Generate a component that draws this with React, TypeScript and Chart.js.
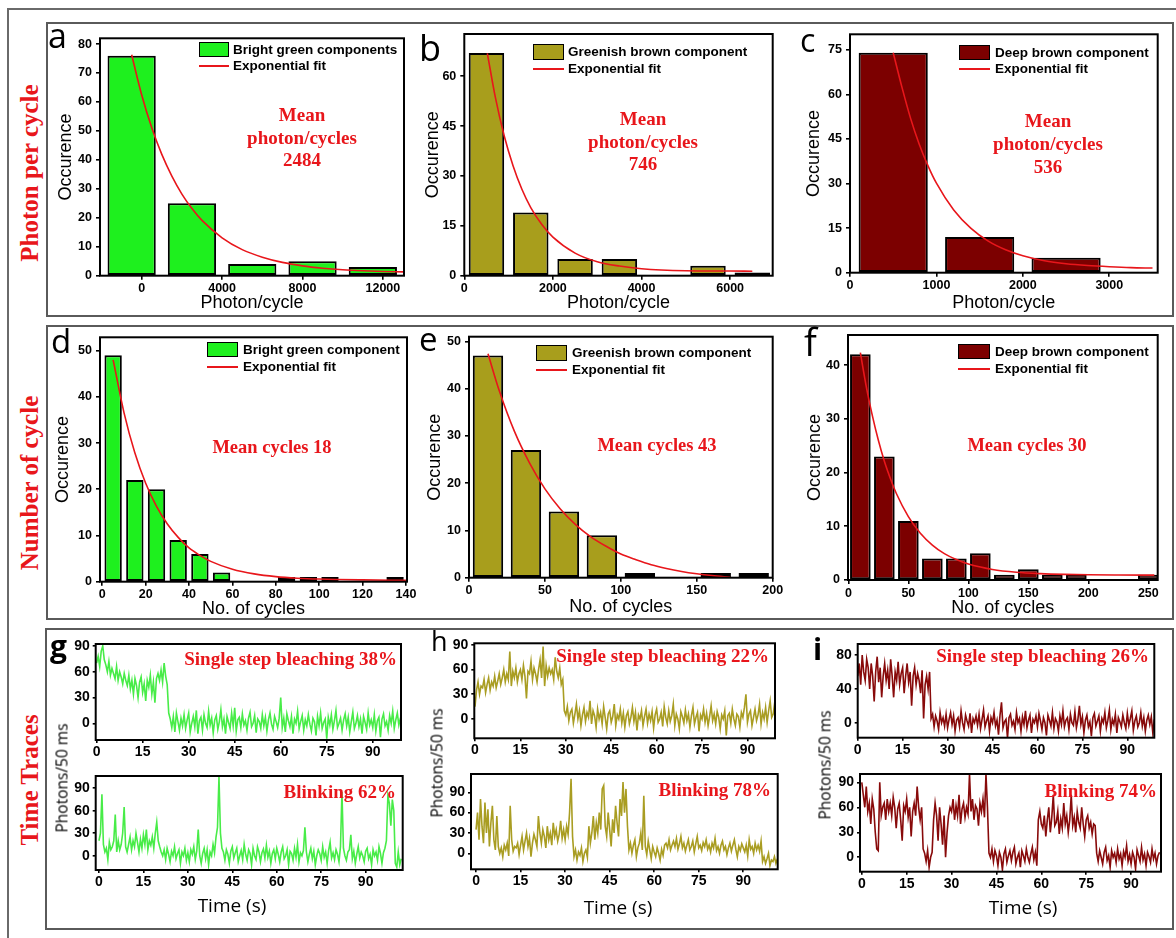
import React, { useEffect, useRef } from "react";
import { Chart, registerables } from "chart.js";

Chart.register(...registerables);

const SANS = "'Liberation Sans', Arial, Helvetica, sans-serif";
const SERIF = "'Liberation Serif', 'Times New Roman', serif";
const OPEN = "'Open Sans', 'DejaVu Sans', sans-serif";

// ---------------- colours ----------------
const GREEN = "#1ef01e";
const OLIVE = "#a89e1c";
const DEEP = "#7c0000";
const FIT_RED = "#e8161b";
const TEXT_RED = "#e8161b";
const G_TRACE = "#48ec48";
const O_TRACE = "#a99d22";
const D_TRACE = "#880a0a";

// ---------------- data: row 1 (photon per cycle) ----------------
const A_BIN_X = [-500, 2500, 5500, 8500, 11500];
const A_COUNTS = [76, 25, 4, 5, 3];
const A_FIT_X = [-500, 0, 500, 1000, 1500, 2000, 2500, 3000, 4000, 5000, 6000, 7000, 8000, 9000, 10000, 11000, 12000, 13000];
const A_FIT_Y = [76.3, 62.4, 51.1, 41.9, 34.4, 28.2, 23.2, 19.1, 13.1, 9.0, 6.4, 4.6, 3.4, 2.6, 2.05, 1.7, 1.47, 1.31];
const A_X_TICKS = [0, 4000, 8000, 12000];
const A_Y_TICKS = [0, 10, 20, 30, 40, 50, 60, 70, 80];

const B_BIN_X = [500, 1500, 2500, 3500, 4500, 5500, 6500];
const B_COUNTS = [67, 19, 5, 5, 0, 3, 1];
const B_FIT_X = [520, 700, 900, 1100, 1300, 1500, 1750, 2000, 2500, 3000, 3500, 4000, 5000, 6000, 6500];
const B_FIT_Y = [66.9, 53.7, 42.1, 33.1, 26.0, 20.5, 15.4, 11.6, 6.8, 4.2, 2.9, 2.1, 1.5, 1.4, 1.35];
const B_X_TICKS = [0, 2000, 4000, 6000];
const B_Y_TICKS = [0, 15, 30, 45, 60];

const C_BIN_X = [500, 1500, 2500];
const C_COUNTS = [74, 12, 5];
const C_FIT_X = [500, 600, 700, 800, 900, 1000, 1200, 1400, 1600, 1800, 2000, 2250, 2500, 2750, 3000, 3250, 3500];
const C_FIT_Y = [74.0, 62.5, 52.0, 43.3, 36.1, 30.1, 21.1, 14.9, 10.6, 7.7, 5.7, 4.0, 3.0, 2.4, 2.0, 1.7, 1.56];
const C_X_TICKS = [0, 1000, 2000, 3000];
const C_Y_TICKS = [0, 15, 30, 45, 60, 75];

// ---------------- data: row 2 (number of cycles) ----------------
const D_BIN_X = [5, 15, 25, 35, 45, 55, 65, 75, 85, 95, 105, 115, 125, 135];
const D_COUNTS = [49, 22, 20, 9, 6, 2, 0, 0, 1, 1, 1, 0, 0, 1];
const D_FIT_X = [5, 10, 15, 20, 25, 30, 35, 40, 45, 50, 60, 70, 80, 90, 100, 120, 140];
const D_FIT_Y = [48, 36.6, 27.9, 21.3, 16.3, 12.5, 9.6, 7.3, 5.7, 4.4, 2.7, 1.7, 1.1, 0.76, 0.57, 0.39, 0.3];
const D_X_TICKS = [0, 20, 40, 60, 80, 100, 120, 140];
const D_Y_TICKS = [0, 10, 20, 30, 40, 50];

const E_BIN_X = [12.5, 37.5, 62.5, 87.5, 112.5, 137.5, 162.5, 187.5];
const E_COUNTS = [47, 27, 14, 9, 1, 0, 1, 1];
const E_FIT_X = [12.5, 20, 30, 40, 50, 60, 70, 80, 90, 100, 110, 120, 130, 140, 150, 160, 172];
const E_FIT_Y = [47.4, 39.5, 30.9, 24.2, 18.8, 14.6, 11.3, 8.7, 6.7, 5.0, 3.8, 2.75, 1.96, 1.33, 0.84, 0.45, 0.08];
const E_X_TICKS = [0, 50, 100, 150, 200];
const E_Y_TICKS = [0, 10, 20, 30, 40, 50];

const F_BIN_X = [10, 30, 50, 70, 90, 110, 130, 150, 170, 190, 210, 230, 250];
const F_COUNTS = [42, 23, 11, 4, 4, 5, 1, 2, 1, 1, 0, 0, 1];
const F_FIT_X = [10, 15, 20, 25, 30, 35, 40, 50, 60, 70, 80, 90, 100, 120, 140, 160, 180, 200, 225, 255];
const F_FIT_Y = [42.3, 35.9, 30.6, 26.0, 22.1, 18.9, 16.1, 11.8, 8.7, 6.5, 4.9, 3.8, 2.96, 1.96, 1.44, 1.18, 1.04, 0.97, 0.93, 0.9];
const F_X_TICKS = [0, 50, 100, 150, 200, 250];
const F_Y_TICKS = [0, 10, 20, 30, 40];

// ---------------- data: row 3 (time traces, photons / 50 ms, one value per 0.5 s) ----------------
const TRACE_DT_S = 0.5;
const TIME_TICKS = [0, 15, 30, 45, 60, 75, 90];
const PH_TICKS_30 = [0, 30, 60, 90];
const PH_TICKS_40 = [0, 40, 80];

const G_BLEACH = [
  70, 78, 66, 84, 90, 74, 68, 60, 72, 56, 64, 58, 52, 66, 50, 60, 54, 46, 58, 50,
  44, 56, 40, 50, 34, 52, 44, 30, 48, 54, 36, 46, 26, 50, 42, 56, 34, 48, 24, 52,
  58, 50, 62, 48, 70, 55, 45, 12, 5, -5, 8, -10, 12, 2, -8, 6, -3, 10, -6, 4,
  12, -10, 0, 8, -4, 15, -12, 3, 7, -8, 10, 0, -5, 14, -2, 6, -11, 4, 9, -7,
  2, 16, -4, 5, -12, 8, 1, -6, 12, -3, 18, -9, 4, 7, -5, 11, -2, 3, -8, 6,
  13, -4, 0, 9, -11, 5, 2, -6, 10, -3, 7, -9, 4, 12, -1, -7, 8, 2, -5, 6,
  30, -5, 6, -10, 11, 3, -4, 8, -12, 5, 0, 14, -6, 2, 9, -8, 4, -3, 10, -1,
  -9, 6, 2, -14, 8, -3, 12, -6, 1, 5, -18, 7, -2, 10, -7, 3, 15, -5, 0, 6,
  -8, 4, 11, -3, 7, -10, 2, 13, -6, 0, 9, -4, 5, -12, 8, 1, -7, 12, -2, 4,
  -5, 10, -9, 3, 7, -16, 5, 11, -3, 2, -8, 9, 0, 14, -6, 4, 12, -2, 6, 8,
];
const G_BLINK = [
  20, 30, 82, 15, 5, 10, -5, 18, 8, 12, 20, 55, 5, 20, 8, 15, 30, 65, 12, 5,
  15, 25, 8, 20, 12, 30, 18, 5, 22, 10, 28, 15, 35, 8, 20, 14, 25, 10, 30, 45,
  20, 12, 5, 0, 8, -5, 10, 2, -8, 6, 0, 12, -4, 3, 8, -10, 5, 0, 10, -6,
  4, -8, 8, 2, 12, -5, 6, 35, 0, -10, 3, 10, -4, 8, -12, 5, 0, 15, 4, 25,
  38, 105, 30, 10, 5, -6, 8, 2, -10, 6, 12, -3, 4, 10, -8, 0, 7, -5, 15, 2,
  -6, 8, 3, -12, 10, 0, -5, 12, 5, -8, 4, 9, -3, 14, -2, 6, -10, 3, 8, -4,
  10, 2, -8, 5, 12, -4, 0, 8, -12, 6, 3, -6, 10, -2, 15, -8, 4, 0, 7, 38,
  5, -8, 2, 10, -4, 6, -12, 0, 8, 3, -6, 12, -2, 5, -10, 7, 18, -3, 4, -5,
  8, 2, -8, 12, 85, 10, 0, -6, 5, 8, 28, -4, 6, -10, 2, 12, -3, 5, 0, -8,
  6, 10, -4, 2, -12, 8, 0, 5, -6, 12, 3, -10, 4, 10, 20, 80, 70, 40, 75, 60,
  -10, -15, 5, -12, -4,
];
const H_BLEACH = [
  15, 35, 45, 30, 40, 38, 48, 32, 42, 50, 35, 45, 40, 52, 38, 46, 55, 42, 50, 60,
  45, 55, 48, 82, 40, 58, 50, 62, 45, 55, 60, 48, 65, 52, 25, 58, 55, 70, 48, 62,
  55, 45, 60, 72, 50, 88, 40, 65, 52, 62, 55, 60, 48, 75, 58, 50, 62, 42, 48, 10,
  5, 15, -2, 8, 12, -5, 6, 18, 0, 10, -8, 5, 14, -3, 8, 2, 22, -6, 10, 4,
  -10, 12, 0, 8, -6, 15, 2, -12, 6, 10, -4, 3, 18, -8, 5, 0, 12, -5, 7, -10,
  4, 9, -6, 2, 14, -3, 8, -14, 5, 0, 10, -8, 3, 12, -5, 6, -2, 9, -11, 5,
  12, -4, 0, 8, -9, 15, 2, -6, 10, -3, 4, 18, -8, 6, 0, -12, 9, 3, -5, 11,
  -2, 6, -10, 4, 14, -6, 2, 8, -15, 5, 0, 12, -4, 7, -8, 3, 16, -2, 6, -6,
  9, 2, -12, 5, 0, 10, -20, 4, 7, -5, 12, 0, -8, 6, 3, -10, 8, 2, 14, 30,
  -4, 6, 10, -8, 2, 12, -2, 5, 18, -6, 8, 0, 14, -4, 10, 22, 2, 6, 20, 12,
];
const H_BLINK = [
  35, 60, 20, 80, 40, 15, 75, 30, 65, 10, 45, 70, 20, 5, 55, 10, 0, 8, -5, 12,
  5, 15, -4, 70, 20, 3, 10, 8, 15, -2, 12, 25, 5, 18, 30, 10, 22, -5, 15, 28,
  20, 10, 55, 30, 15, 35, 25, 8, 40, 20, 30, 12, 45, 25, 35, 18, 28, 48, 22, 35,
  20, 40, 28, 60, 110, 25, -5, 5, -10, 2, -3, 8, -12, 0, 5, -6, 40, 15, 30, 55,
  20, 45, 30, 60, 35, 95, 100, 40, 25, 60, 35, 10, 50, 30, 70, 45, 25, 80, 55, 105,
  60, 95, 40, 5, 15, 0, 12, 20, -5, 8, 15, 30, 5, 85, 10, -2, 18, 5, -8, 10,
  2, -5, 8, 0, -10, 6, -3, 12, 15, 8, 20, 5, 12, 18, 10, 22, 6, 14, 25, 8,
  15, 3, 12, 20, 5, 10, 18, 2, 14, 25, 8, 12, 4, 16, 10, 20, 6, 12, 2, 15,
  8, 22, 4, 10, 0, 12, 18, 5, 10, -2, 8, 15, 3, 12, 20, 6, -5, 10, 4, 14,
  8, 2, 12, -4, 20, 6, 10, 0, 15, 5, 12, 3, 18, -12, -5, -15, -8, 0, -18, -10,
  -12, -5, -15, -8,
];
const I_BLEACH = [
  55, 70, 45, 80, 60, 50, 75, 65, 40, 70, 55, 25, 60, 78, 48, 65, 30, 55, 70, 50,
  62, 40, 75, 55, 30, 60, 50, 72, 45, 58, 65, 35, 55, 70, 48, 60, 20, 55, 65, 45,
  58, 50, 35, 62, 5, 45, 55, 40, 60, 5, 10, -5, 8, 2, -8, 12, 0, 6, -4, 10,
  -6, 4, 12, -2, 8, -10, 3, 6, -5, 14, 0, -8, 9, 2, -4, 11, -12, 5, 0, 8,
  -3, 10, -7, 4, 15, -5, 2, 8, -10, 6, 0, 12, -4, 3, -14, 9, 24, -6, 1, 4,
  -18, 6, 10, -3, 2, -8, 12, 0, 5, -10, 7, -2, 14, -6, 3, 9, -12, 4, 0, 8,
  -5, 11, 2, -8, 6, 0, -15, 9, 3, -4, 12, -7, 5, 1, -10, 8, -2, 14, -5, 3,
  6, -8, 10, 0, -3, 13, -6, 4, 20, -2, 7, -12, 3, 9, -5, 1, -16, 6, 11, -4,
  2, 8, -10, 5, 0, 12, -6, 3, 15, -8, 4, -2, 10, -12, 6, 1, -5, 9, 0, -7,
  11, -3, 5, 14, -9, 2, 8, -5, 0, 12, -4, 6, -10, 3, 9, -2, 7, -12, 4, 2,
];
const I_BLINK = [
  90, 75, 60, 85, 55, 65, 40, 70, 58, 30, 10, 8, 90, 50, 60, 65, 45, 70, 55, 65,
  50, 72, 60, 35, 58, 65, 45, 20, 62, 55, 70, 48, 60, 25, 55, 65, 50, 85, 60, 45,
  60, 10, 5, -5, 8, -12, 0, 6, 45, 65, 50, 20, 60, 40, 15, 50, 0, 30, 50, 60,
  55, 70, 45, 62, 50, 75, 40, 58, 65, 48, 60, 52, 100, 55, 70, 45, 62, 58, 38, 65,
  55, 70, 48, 100, 60, 5, 0, 10, -5, 8, 2, -10, 6, 0, -15, 4, 10, -6, 2, 8,
  -4, 6, 12, -8, 0, 5, -12, 8, 2, -5, 10, 0, -6, 4, 12, -3, 6, -10, 45, 55,
  40, 35, 50, 25, 45, 60, 30, 48, 75, 38, 42, 55, 28, 46, 35, 65, 40, 50, 30, 45,
  75, 38, 48, 30, 55, 42, 35, 60, 40, 25, 45, 50, 35, 42, 28, 40, 38, 5, -5, 8,
  0, -8, 6, 12, -4, 2, -12, 8, 0, 5, -6, 10, -2, 4, -10, 7, 0, 14, -5, 3,
  -8, 6, 0, -14, 9, 2, -5, 12, -3, 4, -10, 6, 1, -6, 10, -2, 5, -8, 2, 6,
];

// ---------------- dataset builders ----------------
const histBars = (xs: number[], ys: number[], color: string, pct: number) => ({
  type: "bar",
  data: xs.map((x, i) => ({ x, y: ys[i] })),
  backgroundColor: color,
  borderColor: "#000",
  borderWidth: 2,
  borderSkipped: false,
  barPercentage: pct,
  categoryPercentage: 1,
  order: 1,
});
const fitLine = (xs: number[], ys: number[]) => ({
  type: "line",
  data: xs.map((x, i) => ({ x, y: ys[i] })),
  borderColor: FIT_RED,
  borderWidth: 1.6,
  pointRadius: 0,
  fill: false,
  cubicInterpolationMode: "monotone",
  order: 0,
});
const trace = (vals: number[], color: string) => ({
  type: "line",
  data: vals.map((y, i) => ({ x: i * TRACE_DT_S, y })),
  borderColor: color,
  borderWidth: 1.6,
  pointRadius: 0,
  fill: false,
  tension: 0,
});

type Box = { l: number; t: number; r: number; b: number };
type AxisCfg = { min: number; max: number; ticks: number[]; title?: string; titleAt?: number };
type PanelSpec = {
  kind: "bar" | "line";
  canvas: Box;
  plot: Box;
  x: AxisCfg;
  y: AxisCfg;
  tickSize: number;
  tickLen: number;
  xPad: number;
  yPad: number;
  datasets: any[];
};

const TITLE_SIZE = 18;

const framePlugin = {
  id: "frame",
  afterDatasetsDraw(chart: any) {
    const { ctx, chartArea: a } = chart;
    ctx.save();
    ctx.strokeStyle = "#000";
    ctx.lineWidth = 2;
    ctx.strokeRect(a.left, a.top, a.right - a.left, a.bottom - a.top);
    ctx.restore();
  },
};

function buildConfig(s: PanelSpec): any {
  const axis = (a: AxisCfg, isX: boolean) => ({
    type: "linear",
    position: isX ? "bottom" : "left",
    min: a.min,
    max: a.max,
    offset: false,
    afterBuildTicks: (sc: any) => {
      sc.ticks = a.ticks.map((v) => ({ value: v }));
    },
    afterFit: (sc: any) => {
      if (isX) sc.height = s.canvas.b - s.plot.b;
      else sc.width = s.plot.l - s.canvas.l;
    },
    ticks: {
      font: { family: SANS, size: s.tickSize, weight: "bold", lineHeight: 1 },
      color: "#000",
      padding: isX ? s.xPad : s.yPad,
      maxRotation: 0,
      autoSkip: false,
      callback: (v: any) => String(v),
    },
    grid: {
      display: true,
      drawOnChartArea: false,
      drawTicks: true,
      tickLength: s.tickLen,
      color: "#000",
      tickColor: "#000",
      lineWidth: 1.6,
      tickWidth: 1.6,
      offset: false,
    },
    border: { display: false },
    title: a.title
      ? {
          display: true,
          text: a.title,
          color: "#000",
          font: { family: SANS, size: TITLE_SIZE, lineHeight: 1 },
          padding: isX
            ? { top: 0, bottom: s.canvas.b - (a.titleAt as number) - TITLE_SIZE / 2 }
            : { top: (a.titleAt as number) - s.canvas.l - TITLE_SIZE / 2, bottom: 0 },
        }
      : { display: false },
  });
  return {
    type: s.kind,
    data: { datasets: s.datasets },
    options: {
      responsive: false,
      maintainAspectRatio: false,
      animation: false,
      devicePixelRatio: 1,
      events: [],
      layout: { padding: { left: 0, top: s.plot.t - s.canvas.t, right: s.canvas.r - s.plot.r, bottom: 0 } },
      plugins: { legend: { display: false }, tooltip: { enabled: false }, title: { display: false } },
      scales: { x: axis(s.x, true), y: axis(s.y, false) },
    },
    plugins: [framePlugin],
  };
}

const HIST = { kind: "bar" as const, tickSize: 12.5, tickLen: 4, xPad: 3, yPad: 4 };
const TRACE = { kind: "line" as const, tickSize: 14, tickLen: 3, xPad: 2, yPad: 3 };

const PANELS: PanelSpec[] = [
  {
    ...HIST,
    canvas: { l: 50, t: 26, r: 420, b: 316 },
    plot: { l: 100, t: 38.3, r: 404, b: 275.7 },
    x: { min: -2075, max: 13050, ticks: A_X_TICKS, title: "Photon/cycle", titleAt: 303 },
    y: { min: 0, max: 82, ticks: A_Y_TICKS, title: "Occurence", titleAt: 66 },
    datasets: [histBars(A_BIN_X, A_COUNTS, GREEN, 0.8), fitLine(A_FIT_X, A_FIT_Y)],
  },
  {
    ...HIST,
    canvas: { l: 418, t: 22, r: 790, b: 316 },
    plot: { l: 464.3, t: 34, r: 772.7, b: 275.7 },
    x: { min: 0, max: 6960, ticks: B_X_TICKS, title: "Photon/cycle", titleAt: 303 },
    y: { min: 0, max: 72.7, ticks: B_Y_TICKS, title: "Occurence", titleAt: 433 },
    datasets: [histBars(B_BIN_X, B_COUNTS, OLIVE, 0.8), fitLine(B_FIT_X, B_FIT_Y)],
  },
  {
    ...HIST,
    canvas: { l: 800, t: 22, r: 1172, b: 316 },
    plot: { l: 850, t: 34.3, r: 1157.7, b: 272.7 },
    x: { min: 0, max: 3560, ticks: C_X_TICKS, title: "Photon/cycle", titleAt: 303 },
    y: { min: 0, max: 80.2, ticks: C_Y_TICKS, title: "Occurence", titleAt: 814 },
    datasets: [histBars(C_BIN_X, C_COUNTS, DEEP, 0.8), fitLine(C_FIT_X, C_FIT_Y)],
  },
  {
    ...HIST,
    canvas: { l: 50, t: 325, r: 424, b: 620 },
    plot: { l: 100, t: 337.3, r: 407, b: 581.7 },
    x: { min: -1.06, max: 140.5, ticks: D_X_TICKS, title: "No. of cycles", titleAt: 609 },
    y: { min: 0, max: 52.9, ticks: D_Y_TICKS, title: "Occurence", titleAt: 63 },
    datasets: [histBars(D_BIN_X, D_COUNTS, GREEN, 0.8), fitLine(D_FIT_X, D_FIT_Y)],
  },
  {
    ...HIST,
    canvas: { l: 420, t: 325, r: 790, b: 620 },
    plot: { l: 469, t: 336.7, r: 772.7, b: 577.7 },
    x: { min: 0, max: 200, ticks: E_X_TICKS, title: "No. of cycles", titleAt: 606.7 },
    y: { min: 0, max: 51, ticks: E_Y_TICKS, title: "Occurence", titleAt: 435 },
    datasets: [histBars(E_BIN_X, E_COUNTS, OLIVE, 0.8), fitLine(E_FIT_X, E_FIT_Y)],
  },
  {
    ...HIST,
    canvas: { l: 800, t: 323, r: 1172, b: 620 },
    plot: { l: 848, t: 335, r: 1157.7, b: 580 },
    x: { min: -0.3, max: 257.8, ticks: F_X_TICKS, title: "No. of cycles", titleAt: 608 },
    y: { min: 0, max: 45.6, ticks: F_Y_TICKS, title: "Occurence", titleAt: 815 },
    datasets: [histBars(F_BIN_X, F_COUNTS, DEEP, 0.86), fitLine(F_FIT_X, F_FIT_Y)],
  },
  {
    ...TRACE,
    canvas: { l: 50, t: 632, r: 412, b: 762 },
    plot: { l: 95.7, t: 644, r: 401, b: 740 },
    x: { min: -0.3, max: 99.2, ticks: TIME_TICKS },
    y: { min: -19.4, max: 92.3, ticks: PH_TICKS_30 },
    datasets: [trace(G_BLEACH, G_TRACE)],
  },
  {
    ...TRACE,
    canvas: { l: 50, t: 764, r: 414, b: 900 },
    plot: { l: 95.7, t: 776, r: 402.7, b: 870 },
    x: { min: -1.1, max: 102.5, ticks: TIME_TICKS },
    y: { min: -19, max: 106.4, ticks: PH_TICKS_30 },
    datasets: [trace(G_BLINK, G_TRACE)],
  },
  {
    ...TRACE,
    canvas: { l: 425, t: 631, r: 790, b: 762 },
    plot: { l: 474.3, t: 643.3, r: 775, b: 738.3 },
    x: { min: -0.23, max: 99.1, ticks: TIME_TICKS },
    y: { min: -23.5, max: 92, ticks: PH_TICKS_30 },
    datasets: [trace(H_BLEACH, O_TRACE)],
  },
  {
    ...TRACE,
    canvas: { l: 425, t: 762, r: 792, b: 900 },
    plot: { l: 471, t: 774, r: 777.7, b: 869.3 },
    x: { min: -1.7, max: 101.6, ticks: TIME_TICKS },
    y: { min: -23.6, max: 117, ticks: PH_TICKS_30 },
    datasets: [trace(H_BLINK, O_TRACE)],
  },
  {
    ...TRACE,
    canvas: { l: 805, t: 632, r: 1170, b: 762 },
    plot: { l: 857.7, t: 644, r: 1154.3, b: 737.7 },
    x: { min: 0, max: 99, ticks: TIME_TICKS },
    y: { min: -17.7, max: 93, ticks: PH_TICKS_40 },
    datasets: [trace(I_BLEACH, D_TRACE)],
  },
  {
    ...TRACE,
    canvas: { l: 805, t: 762, r: 1172, b: 900 },
    plot: { l: 860, t: 774, r: 1161, b: 871.7 },
    x: { min: -0.6, max: 100, ticks: TIME_TICKS },
    y: { min: -17.3, max: 100, ticks: PH_TICKS_30 },
    datasets: [trace(I_BLINK, D_TRACE)],
  },
];

function PanelChart({ spec }: { spec: PanelSpec }) {
  const ref = useRef<HTMLCanvasElement | null>(null);
  useEffect(() => {
    if (!ref.current) return;
    const chart = new Chart(ref.current, buildConfig(spec));
    return () => chart.destroy();
  }, [spec]);
  const w = spec.canvas.r - spec.canvas.l;
  const h = spec.canvas.b - spec.canvas.t;
  return (
    <canvas
      ref={ref}
      width={w}
      height={h}
      style={{ position: "absolute", left: spec.canvas.l, top: spec.canvas.t, width: w, height: h }}
    />
  );
}

// ---------------- HTML text helpers ----------------
type TxtProps = {
  x: number;
  cy: number;
  size: number;
  font: string;
  weight?: number | string;
  color?: string;
  align?: "center" | "right" | "left";
  children: React.ReactNode;
};
function Txt({ x, cy, size, font, weight = "normal", color = "#000", align = "center", children }: TxtProps) {
  const lh = Math.round(size * 1.2);
  const W = 600;
  const left = align === "center" ? x - W / 2 : align === "right" ? x - W : x;
  return (
    <div
      style={{
        position: "absolute",
        left,
        width: W,
        top: cy - lh / 2,
        height: lh,
        lineHeight: `${lh}px`,
        textAlign: align,
        fontFamily: font,
        fontSize: size,
        fontWeight: weight as any,
        color,
        whiteSpace: "nowrap",
      }}
    >
      {children}
    </div>
  );
}
function VTxt({ cx, cy, size, font, weight = "normal", color = "#000", children }: any) {
  return (
    <div
      style={{
        position: "absolute",
        left: cx,
        top: cy,
        transform: "translate(-50%, -50%) rotate(-90deg)",
        fontFamily: font,
        fontSize: size,
        fontWeight: weight,
        color,
        whiteSpace: "nowrap",
        lineHeight: 1.1,
      }}
    >
      {children}
    </div>
  );
}
function Letter({ x, top, size, weight = "normal", children }: any) {
  return (
    <div
      style={{
        position: "absolute",
        left: x,
        top,
        fontFamily: OPEN,
        fontSize: size,
        fontWeight: weight,
        lineHeight: 1,
        color: "#000",
      }}
    >
      {children}
    </div>
  );
}
function Legend({ x, boxTop, boxW, boxH, lineY, textX, color, label }: any) {
  const fs = 13.5;
  return (
    <>
      <div
        style={{
          position: "absolute",
          left: x,
          top: boxTop,
          width: boxW,
          height: boxH,
          background: color,
          border: "1.5px solid #000",
          boxSizing: "border-box",
        }}
      />
      <div style={{ position: "absolute", left: x, top: lineY - 1, width: boxW, height: 2, background: FIT_RED }} />
      <Txt x={textX} cy={boxTop + boxH / 2} size={fs} font={SANS} weight="bold" align="left">
        {label}
      </Txt>
      <Txt x={textX} cy={lineY} size={fs} font={SANS} weight="bold" align="left">
        Exponential fit
      </Txt>
    </>
  );
}

const ROW_BORDER = "2px solid #5a5a5a";

export default function App() {
  const red = { font: SERIF, weight: "bold", color: TEXT_RED };
  return (
    <div
      style={{
        position: "absolute",
        left: 0,
        top: 0,
        width: 1176,
        height: 938,
        background: "#fff",
        overflow: "hidden",
      }}
    >
      {/* outer frame lines */}
      <div style={{ position: "absolute", left: 7, top: 8, width: 1169, height: 2, background: "#6a6a6a" }} />
      <div style={{ position: "absolute", left: 7, top: 8, width: 2, height: 930, background: "#6a6a6a" }} />
      {/* row boxes */}
      <div style={{ position: "absolute", left: 46, top: 22, width: 1128, height: 295, border: ROW_BORDER, boxSizing: "border-box" }} />
      <div style={{ position: "absolute", left: 46, top: 325, width: 1128, height: 295, border: ROW_BORDER, boxSizing: "border-box" }} />
      <div style={{ position: "absolute", left: 45, top: 628, width: 1129, height: 302, border: ROW_BORDER, boxSizing: "border-box" }} />

      {/* row labels */}
      <VTxt cx={30} cy={173} size={25} {...red}>Photon per cycle</VTxt>
      <VTxt cx={30} cy={483} size={25} {...red}>Number of cycle</VTxt>
      <VTxt cx={30} cy={780} size={25} {...red}>Time Traces</VTxt>

      {PANELS.map((p, i) => (
        <PanelChart key={i} spec={p} />
      ))}

      {/* panel letters */}
      <Letter x={48} top={18} size={34}>a</Letter>
      <Letter x={419} top={30} size={36}>b</Letter>
      <Letter x={800} top={24} size={32}>c</Letter>
      <Letter x={51} top={324} size={33}>d</Letter>
      <Letter x={419} top={322} size={33}>e</Letter>
      <Letter x={804} top={322} size={38}>f</Letter>
      <Letter x={50} top={631} size={30} weight="bold">g</Letter>
      <Letter x={431} top={627} size={27}>h</Letter>
      <Letter x={813} top={634} size={30} weight="bold">i</Letter>

      {/* legends */}
      <Legend x={199} boxTop={42} boxW={30} boxH={15} lineY={66} textX={233} color={GREEN} label="Bright green components" />
      <Legend x={533} boxTop={44} boxW={31} boxH={16} lineY={69} textX={568} color={OLIVE} label="Greenish brown component" />
      <Legend x={959} boxTop={45} boxW={31} boxH={15} lineY={69} textX={995} color={DEEP} label="Deep brown component" />
      <Legend x={207} boxTop={342} boxW={31} boxH={15} lineY={367} textX={243} color={GREEN} label="Bright green component" />
      <Legend x={536} boxTop={345} boxW={31} boxH={16} lineY={370} textX={572} color={OLIVE} label="Greenish brown component" />
      <Legend x={958} boxTop={344} boxW={32} boxH={15} lineY={369} textX={995} color={DEEP} label="Deep brown component" />

      {/* annotations */}
      <Txt x={302} cy={114} size={19} {...red}>Mean</Txt>
      <Txt x={302} cy={137} size={19} {...red}>photon/cycles</Txt>
      <Txt x={302} cy={159} size={19} {...red}>2484</Txt>
      <Txt x={643} cy={118} size={19} {...red}>Mean</Txt>
      <Txt x={643} cy={141} size={19} {...red}>photon/cycles</Txt>
      <Txt x={643} cy={163} size={19} {...red}>746</Txt>
      <Txt x={1048} cy={120} size={19} {...red}>Mean</Txt>
      <Txt x={1048} cy={143} size={19} {...red}>photon/cycles</Txt>
      <Txt x={1048} cy={166} size={19} {...red}>536</Txt>
      <Txt x={272} cy={447} size={18.5} {...red}>Mean cycles 18</Txt>
      <Txt x={657} cy={445} size={18.5} {...red}>Mean cycles 43</Txt>
      <Txt x={1027} cy={445} size={18.5} {...red}>Mean cycles 30</Txt>
      <Txt x={397} cy={658} size={19} align="right" {...red}>Single step bleaching 38%</Txt>
      <Txt x={396} cy={791} size={19} align="right" {...red}>Blinking 62%</Txt>
      <Txt x={769} cy={655} size={19} align="right" {...red}>Single step bleaching 22%</Txt>
      <Txt x={771} cy={789} size={19} align="right" {...red}>Blinking 78%</Txt>
      <Txt x={1149} cy={655} size={19} align="right" {...red}>Single step bleaching 26%</Txt>
      <Txt x={1157} cy={790} size={19} align="right" {...red}>Blinking 74%</Txt>

      {/* time-trace axis titles */}
      <VTxt cx={62} cy={778} size={15.5} font={OPEN}>Photons/50 ms</VTxt>
      <VTxt cx={437} cy={763} size={15.5} font={OPEN}>Photons/50 ms</VTxt>
      <VTxt cx={825} cy={765} size={15.5} font={OPEN}>Photons/50 ms</VTxt>
      <Txt x={232} cy={905} size={19} font={OPEN}>Time (s)</Txt>
      <Txt x={618} cy={907} size={19} font={OPEN}>Time (s)</Txt>
      <Txt x={1023} cy={907} size={19} font={OPEN}>Time (s)</Txt>
    </div>
  );
}
